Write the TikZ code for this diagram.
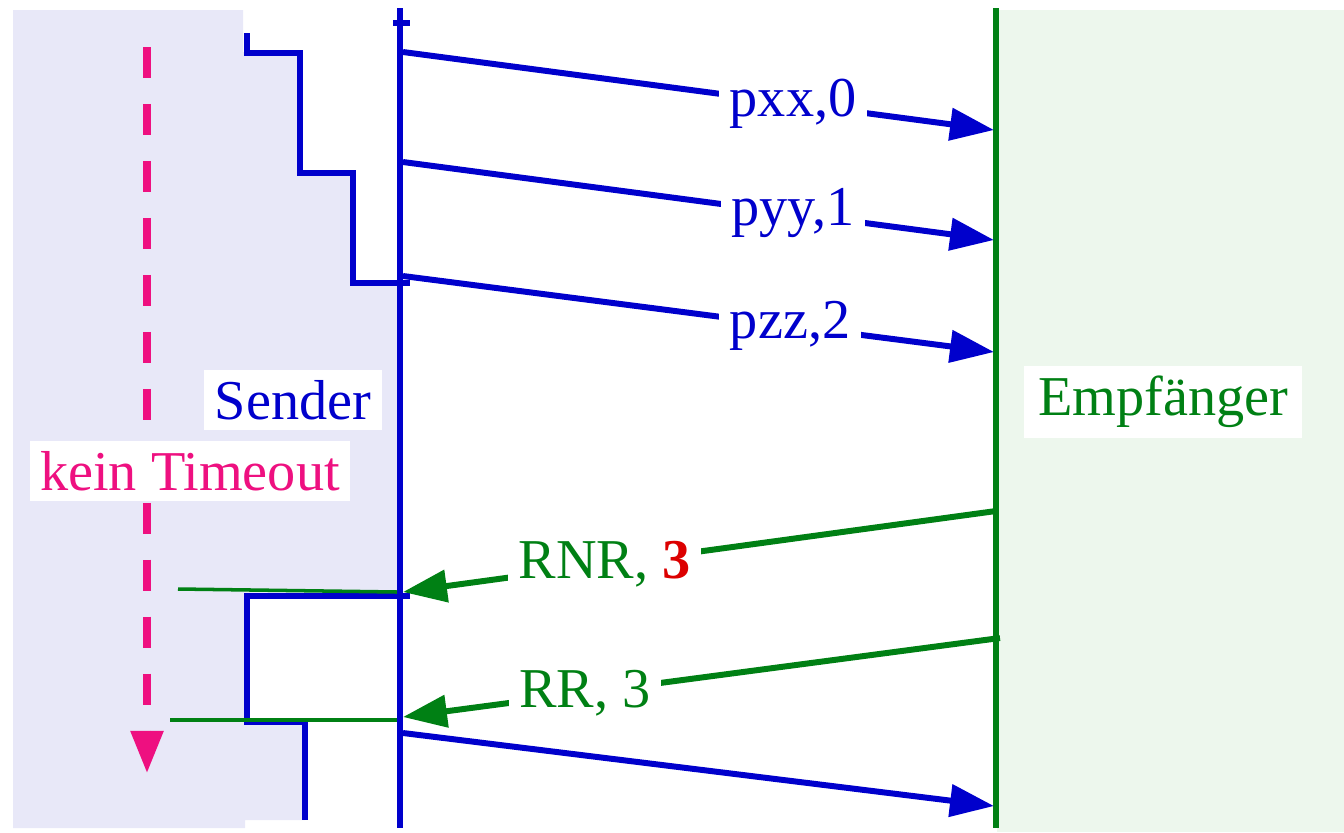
\documentclass[tikz,border=0pt]{standalone}
\usepackage{fontspec}
\setmainfont{Liberation Serif}
\usepackage{tikz}
\usetikzlibrary{positioning}
\usetikzlibrary{arrows.meta}

\definecolor{sblue}{RGB}{0,0,204}
\definecolor{rgreen}{RGB}{0,128,20}
\definecolor{tpink}{RGB}{238,16,128}
\definecolor{nred}{RGB}{220,0,0}
\definecolor{sshade}{RGB}{232,232,248}
\definecolor{rshade}{RGB}{237,247,237}

\begin{document}
\begin{tikzpicture}[x=0.01cm, y=-0.01cm,
	font=\fontsize{16}{19}\selectfont,
	frame/.style={draw=sblue, line width=1.7pt, -{Triangle[length=12.5pt,width=9pt]}},
	ack/.style={draw=rgreen, line width=1.7pt, -{Triangle[length=12.5pt,width=9pt]}},
	msg/.style={fill=white, inner sep=3pt},
	side/.style={fill=white, inner sep=3pt, minimum height=0.6cm}]

	\useasboundingbox (0,0) rectangle (1344,832);

	% Shaded areas %
	\fill [sshade] (13,10) -- (243,10) -- (243,52) -- (300,52) -- (300,173) -- (352,173) -- (352,283) -- (397,283) -- (397,596) -- (247,596) -- (247,720) -- (305,720) -- (305,820) -- (245,820) -- (245,828) -- (13,828) -- cycle;
	\fill [rshade] (997,10) rectangle (1344,832);

	% Timeout %
	\draw [tpink, line width=2pt, dash pattern=on 8.8pt off 7.4pt, -{Triangle[length=12pt,width=9pt]}] (147,47) -- (147,773);
	\node [side, text=tpink, minimum width=3.2cm, minimum height=0.52cm] (timeout) at (190,471) {kein Timeout};
	\node [side, text=sblue, minimum width=1.73cm] (sender) at (293,400) {Sender};
	\node [side, text=rgreen, minimum width=2.78cm] (empf) at (1163,402) {Empfänger};

	% Lifelines %
	\coordinate (stop) at (400,8);
	\coordinate (sbot) at (400,828);
	\coordinate (rtop) at (996,8);
	\coordinate (rbot) at (996,828);
	\draw [sblue, line width=1.7pt] (stop) -- (sbot);
	\draw [sblue, line width=1.7pt] (393,23) -- (410,23);
	\draw [rgreen, line width=1.7pt] (rtop) -- (rbot);

	% Window %
	\draw [sblue, line width=1.7pt] (247,33) -- (247,53) -- (300,53) -- (300,173) -- (353,173) -- (353,283) -- (410,283);
	\draw [sblue, line width=1.7pt] (410,596) -- (247,596) -- (247,722) -- (305,722) -- (305,820);
	\draw [rgreen, line width=1pt] (178,589) -- (397,592);
	\draw [rgreen, line width=1pt] (170,720) -- (397,720);

	% Frames %
	\coordinate (s0) at (403,52);
	\coordinate (s1) at (403,162);
	\coordinate (s2) at (403,276);
	\coordinate (s3) at (403,733);
	\coordinate (r0) at (994,130);
	\coordinate (r1) at (994,240);
	\coordinate (r2) at (994,352);
	\coordinate (r3) at (994,806);
	\draw [frame] (s0) -- node [msg, pos=0.66, text=sblue] (pxx) {pxx,0} (r0);
	\draw [frame] (s1) -- node [msg, pos=0.66, text=sblue] (pyy) {pyy,1} (r1);
	\draw [frame] (s2) -- node [msg, pos=0.655, text=sblue] (pzz) {pzz,2} (r2);
	\draw [frame] (s3) -- (r3);

	% Acknowledgements %
	\coordinate (a0) at (996,511);
	\coordinate (a1) at (1000,638);
	\coordinate (b0) at (403,592);
	\coordinate (b1) at (403,717);
	\draw [ack] (a0) -- node [msg, pos=0.66, text=rgreen] (rnr) {RNR, {\bfseries\color{nred}3}} (b0);
	\draw [ack] (a1) -- node [msg, pos=0.695, text=rgreen] (rr) {RR, 3} (b1);
\end{tikzpicture}
\end{document}
